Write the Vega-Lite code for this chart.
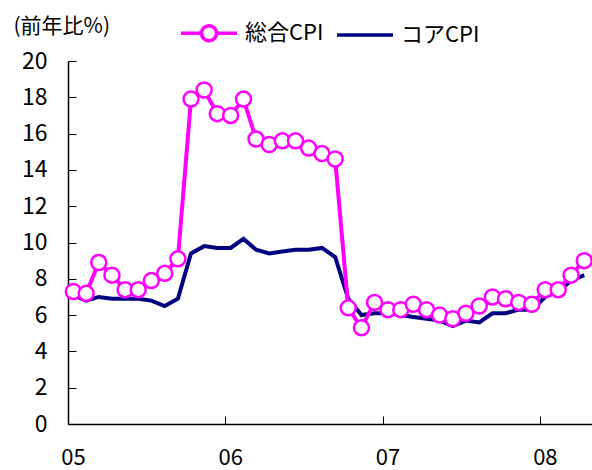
{
  "$schema": "https://vega.github.io/schema/vega-lite/v6.json",
  "autosize": "none",
  "width": 524,
  "height": 363,
  "padding": {"left": 68, "top": 61, "right": 0, "bottom": 46},
  "background": "white",
  "config": {
    "view": {"stroke": null},
    "font": "Noto Sans CJK JP",
    "axis": {"grid": false, "domainColor": "#000000", "tickColor": "#000000", "labelColor": "#000000", "titleColor": "#000000"}
  },
  "datasets": {
    "cpi": [
      {"month": "2005-01-01", "series": "総合CPI", "value": 7.3},
      {"month": "2005-02-01", "series": "総合CPI", "value": 7.2},
      {"month": "2005-03-01", "series": "総合CPI", "value": 8.9},
      {"month": "2005-04-01", "series": "総合CPI", "value": 8.2},
      {"month": "2005-05-01", "series": "総合CPI", "value": 7.4},
      {"month": "2005-06-01", "series": "総合CPI", "value": 7.4},
      {"month": "2005-07-01", "series": "総合CPI", "value": 7.9},
      {"month": "2005-08-01", "series": "総合CPI", "value": 8.3},
      {"month": "2005-09-01", "series": "総合CPI", "value": 9.1},
      {"month": "2005-10-01", "series": "総合CPI", "value": 17.9},
      {"month": "2005-11-01", "series": "総合CPI", "value": 18.4},
      {"month": "2005-12-01", "series": "総合CPI", "value": 17.1},
      {"month": "2006-01-01", "series": "総合CPI", "value": 17.0},
      {"month": "2006-02-01", "series": "総合CPI", "value": 17.9},
      {"month": "2006-03-01", "series": "総合CPI", "value": 15.7},
      {"month": "2006-04-01", "series": "総合CPI", "value": 15.4},
      {"month": "2006-05-01", "series": "総合CPI", "value": 15.6},
      {"month": "2006-06-01", "series": "総合CPI", "value": 15.6},
      {"month": "2006-07-01", "series": "総合CPI", "value": 15.2},
      {"month": "2006-08-01", "series": "総合CPI", "value": 14.9},
      {"month": "2006-09-01", "series": "総合CPI", "value": 14.6},
      {"month": "2006-10-01", "series": "総合CPI", "value": 6.4},
      {"month": "2006-11-01", "series": "総合CPI", "value": 5.3},
      {"month": "2006-12-01", "series": "総合CPI", "value": 6.7},
      {"month": "2007-01-01", "series": "総合CPI", "value": 6.3},
      {"month": "2007-02-01", "series": "総合CPI", "value": 6.3},
      {"month": "2007-03-01", "series": "総合CPI", "value": 6.6},
      {"month": "2007-04-01", "series": "総合CPI", "value": 6.3},
      {"month": "2007-05-01", "series": "総合CPI", "value": 6.0},
      {"month": "2007-06-01", "series": "総合CPI", "value": 5.8},
      {"month": "2007-07-01", "series": "総合CPI", "value": 6.1},
      {"month": "2007-08-01", "series": "総合CPI", "value": 6.5},
      {"month": "2007-09-01", "series": "総合CPI", "value": 7.0},
      {"month": "2007-10-01", "series": "総合CPI", "value": 6.9},
      {"month": "2007-11-01", "series": "総合CPI", "value": 6.7},
      {"month": "2007-12-01", "series": "総合CPI", "value": 6.6},
      {"month": "2008-01-01", "series": "総合CPI", "value": 7.4},
      {"month": "2008-02-01", "series": "総合CPI", "value": 7.4},
      {"month": "2008-03-01", "series": "総合CPI", "value": 8.2},
      {"month": "2008-04-01", "series": "総合CPI", "value": 9.0},
      {"month": "2005-01-01", "series": "コアCPI", "value": 7.1},
      {"month": "2005-02-01", "series": "コアCPI", "value": 6.8},
      {"month": "2005-03-01", "series": "コアCPI", "value": 7.0},
      {"month": "2005-04-01", "series": "コアCPI", "value": 6.9},
      {"month": "2005-05-01", "series": "コアCPI", "value": 6.9},
      {"month": "2005-06-01", "series": "コアCPI", "value": 6.9},
      {"month": "2005-07-01", "series": "コアCPI", "value": 6.8},
      {"month": "2005-08-01", "series": "コアCPI", "value": 6.5},
      {"month": "2005-09-01", "series": "コアCPI", "value": 6.9},
      {"month": "2005-10-01", "series": "コアCPI", "value": 9.4},
      {"month": "2005-11-01", "series": "コアCPI", "value": 9.8},
      {"month": "2005-12-01", "series": "コアCPI", "value": 9.7},
      {"month": "2006-01-01", "series": "コアCPI", "value": 9.7},
      {"month": "2006-02-01", "series": "コアCPI", "value": 10.2},
      {"month": "2006-03-01", "series": "コアCPI", "value": 9.6},
      {"month": "2006-04-01", "series": "コアCPI", "value": 9.4},
      {"month": "2006-05-01", "series": "コアCPI", "value": 9.5},
      {"month": "2006-06-01", "series": "コアCPI", "value": 9.6},
      {"month": "2006-07-01", "series": "コアCPI", "value": 9.6},
      {"month": "2006-08-01", "series": "コアCPI", "value": 9.7},
      {"month": "2006-09-01", "series": "コアCPI", "value": 9.2},
      {"month": "2006-10-01", "series": "コアCPI", "value": 6.9},
      {"month": "2006-11-01", "series": "コアCPI", "value": 6.0},
      {"month": "2006-12-01", "series": "コアCPI", "value": 6.1},
      {"month": "2007-01-01", "series": "コアCPI", "value": 6.1},
      {"month": "2007-02-01", "series": "コアCPI", "value": 6.0},
      {"month": "2007-03-01", "series": "コアCPI", "value": 5.9},
      {"month": "2007-04-01", "series": "コアCPI", "value": 5.8},
      {"month": "2007-05-01", "series": "コアCPI", "value": 5.7},
      {"month": "2007-06-01", "series": "コアCPI", "value": 5.4},
      {"month": "2007-07-01", "series": "コアCPI", "value": 5.7},
      {"month": "2007-08-01", "series": "コアCPI", "value": 5.6},
      {"month": "2007-09-01", "series": "コアCPI", "value": 6.1},
      {"month": "2007-10-01", "series": "コアCPI", "value": 6.1},
      {"month": "2007-11-01", "series": "コアCPI", "value": 6.3},
      {"month": "2007-12-01", "series": "コアCPI", "value": 6.3},
      {"month": "2008-01-01", "series": "コアCPI", "value": 7.0},
      {"month": "2008-02-01", "series": "コアCPI", "value": 7.3},
      {"month": "2008-03-01", "series": "コアCPI", "value": 7.9},
      {"month": "2008-04-01", "series": "コアCPI", "value": 8.2}
    ]
  },
  "data": {"name": "cpi"},
  "encoding": {
    "x": {
      "field": "month",
      "type": "temporal",
      "timeUnit": "yearmonth",
      "bandPosition": 0.4,
      "scale": {"domain": [{"year": 2005, "month": 1, "date": 1}, {"year": 2008, "month": 5, "date": 1}]},
      "axis": {
        "title": null,
        "format": "%y",
        "tickCount": {"interval": "year", "step": 1},
        "tickSize": -8,
        "labelOffset": 5,
        "labelBaseline": "alphabetic",
        "labelPadding": 48,
        "labelFontSize": 22,
        "labelFlush": false,
        "domainWidth": 1.5,
        "tickWidth": 1
      }
    },
    "y": {
      "field": "value",
      "type": "quantitative",
      "scale": {"domain": [0, 20], "nice": false},
      "axis": {
        "title": "(前年比%)",
        "titleAngle": 0,
        "titleAlign": "left",
        "titleBaseline": "top",
        "titleX": -55,
        "titleY": -46,
        "titleFontSize": 21,
        "titleFontWeight": "normal",
        "values": [0, 2, 4, 6, 8, 10, 12, 14, 16, 18, 20],
        "tickSize": -8,
        "labelPadding": 29,
        "labelFontSize": 23,
        "labelFlush": false,
        "domainWidth": 1.5,
        "tickWidth": 1
      }
    },
    "color": {
      "field": "series",
      "type": "nominal",
      "scale": {"domain": ["総合CPI", "コアCPI"], "range": ["#FF00FF", "#000080"]},
      "legend": {
        "title": null,
        "orient": "none",
        "direction": "horizontal",
        "legendX": 111,
        "legendY": -58,
        "padding": 0,
        "symbolSize": 3136,
        "symbolStrokeWidth": 3.5,
        "labelFontSize": 22,
        "labelOffset": 6,
        "columnPadding": 6,
        "labelColor": "#000000",
        "encode": {
          "symbols": {
            "update": {
              "shape": {"signal": "datum.value === '総合CPI' ? 'M-1,0H-0.27M0.27,0H1M0.27,0A0.27,0.27 0 1 1 -0.27,0A0.27,0.27 0 1 1 0.27,0' : 'M-1,0H1'"},
              "fill": {"value": "white"},
              "fillOpacity": {"value": 1}
            }
          }
        }
      }
    }
  },
  "layer": [
    {
      "transform": [{"filter": "datum.series === 'コアCPI'"}],
      "mark": {"type": "line", "strokeWidth": 4}
    },
    {
      "transform": [{"filter": "datum.series === '総合CPI'"}],
      "mark": {"type": "line", "strokeWidth": 4}
    },
    {
      "transform": [{"filter": "datum.series === '総合CPI'"}],
      "mark": {"type": "point", "filled": false, "fill": "white", "fillOpacity": 1, "opacity": 1, "size": 225, "strokeWidth": 2.5}
    }
  ]
}
